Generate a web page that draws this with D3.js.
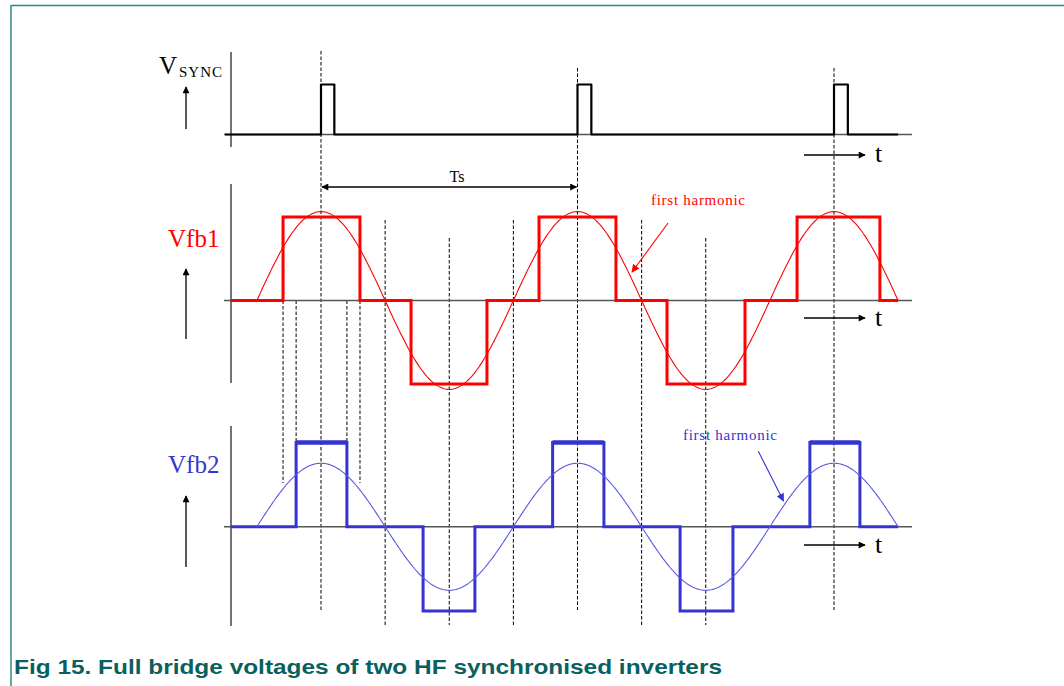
<!DOCTYPE html>
<html>
<head>
<meta charset="utf-8">
<script src="https://cdn.jsdelivr.net/npm/d3@7"></script>
<style>
  html, body { margin: 0; padding: 0; background: #fff; }
  svg { display: block; }
</style>
</head>
<body>
<svg id="chart" width="1064" height="686"></svg>
<script>
// ---------------- DATA (time in units of the switching period Ts) ----------------
const syncTimes = [0, 1, 2];                 // start of each V_SYNC pulse
const syncPulseWidth = [0.052, 0.054, 0.054]; // width of each sync pulse
const vfb1Pulses = [                          // [start, end, level] of the Vfb1 quasi-square wave
  [-0.148, 0.152, 1], [0.351, 0.647, -1], [0.850, 1.150, 1], [1.349, 1.653, -1], [1.856, 2.179, 1]
];
const vfb2Pulses = [                          // [start, end, level] of the Vfb2 quasi-square wave
  [-0.097, 0.101, 1], [0.398, 0.600, -1], [0.903, 1.103, 1], [1.400, 1.606, -1], [1.906, 2.101, 1]
];
const vfb1Harmonic = 1.065;   // first-harmonic amplitude (relative to square level)
const vfb2Harmonic = 0.754;
const harmonicSpan = [-0.25, 2.25];
const waveSpan = [-0.351, 2.25];
const syncGuides = [0, 1, 2];
const zeroCrossGuides = [0.25, 0.75, 1.25];
const troughGuides = [0.5, 1.5];
const vfb1EdgeGuides = [-0.148, 0.152];
const vfb2EdgeGuides = [-0.097, 0.101];
const labels = {
  sync: "V", syncSub: "SYNC", vfb1: "Vfb1", vfb2: "Vfb2", t: "t", ts: "Ts",
  harmonic: "first harmonic",
  caption: "Fig 15. Full bridge voltages of two HF synchronised inverters"
};
// annotation arrows in data space: [t0, v0, t1, v1]
const vfb1HarmArrow = [1.353, 0.928, 1.2125, 0.341];
const vfb2HarmArrow = [1.705, 0.895, 1.803, 0.306];

// ---------------- SCALES ----------------
const x = d3.scaleLinear().domain([0, 1]).range([321, 577.5]);
const ySync = d3.scaleLinear().domain([0, 1]).range([134.5, 84.5]);
const y1 = d3.scaleLinear().domain([-1, 1]).range([384, 217]);
const y2 = d3.scaleLinear().domain([-1, 1]).range([611, 442.5]);

const svg = d3.select("#chart");
const RED = "#ff0000", BLUE = "#3434d2", BLUE_L = "#5858e0", TEAL = "#2f8a86", CAP = "#08605f";

// defs: arrowheads
const defs = svg.append("defs");
function marker(id, color, w, h) {
  defs.append("marker").attr("id", id).attr("viewBox", "0 0 10 10")
    .attr("refX", 9).attr("refY", 5).attr("markerWidth", w).attr("markerHeight", h)
    .attr("orient", "auto-start-reverse").attr("markerUnits", "userSpaceOnUse")
    .append("path").attr("d", "M0,0 L10,5 L0,10 Z").attr("fill", color);
}
marker("ah", "#000", 9, 7);
marker("ahr", RED, 9, 8);
marker("ahb", BLUE, 9, 8);

// frame
svg.append("line").attr("x1", 11).attr("y1", 5.5).attr("x2", 1064).attr("y2", 5.5)
  .attr("stroke", TEAL).attr("stroke-width", 1.5);
svg.append("line").attr("x1", 11).attr("y1", 5).attr("x2", 11).attr("y2", 686)
  .attr("stroke", TEAL).attr("stroke-width", 1.5);

// ---------------- dashed guides ----------------
const gGuides = svg.append("g").attr("stroke", "#000").attr("stroke-width", 1)
  .attr("stroke-dasharray", "3.5,2");
syncGuides.forEach((t, i) => {
  gGuides.append("line").attr("x1", x(t)).attr("x2", x(t))
    .attr("y1", i === 0 ? 51 : 68).attr("y2", 610);
});
zeroCrossGuides.forEach(t => gGuides.append("line").attr("x1", x(t)).attr("x2", x(t)).attr("y1", 220).attr("y2", 625));
troughGuides.forEach(t => gGuides.append("line").attr("x1", x(t)).attr("x2", x(t)).attr("y1", 238).attr("y2", 625));
vfb1EdgeGuides.forEach(t => gGuides.append("line").attr("x1", x(t)).attr("x2", x(t)).attr("y1", y1(0)).attr("y2", 483));
vfb2EdgeGuides.forEach(t => gGuides.append("line").attr("x1", x(t)).attr("x2", x(t)).attr("y1", y1(0)).attr("y2", y2(1)));

// ---------------- axes (vertical lines + baselines) ----------------
const AX = "#444";
function vAxis(y0, y1_) {
  svg.append("line").attr("x1", 231).attr("x2", 231).attr("y1", y0).attr("y2", y1_)
    .attr("stroke", AX).attr("stroke-width", 1.5);
}
vAxis(52, 147); vAxis(184, 383); vAxis(426, 626);
function baseline(y) {
  svg.append("line").attr("x1", 224).attr("x2", 912).attr("y1", y).attr("y2", y)
    .attr("stroke", "#555").attr("stroke-width", 1.5);
}
baseline(ySync(0)); baseline(y1(0)); baseline(y2(0));

// ---------------- sync pulse train ----------------
const line = d3.line();
const syncPts = [[x(-0.374), ySync(0)]];
syncTimes.forEach((t, i) => {
  syncPts.push([x(t), ySync(0)], [x(t), ySync(1)], [x(t + syncPulseWidth[i]), ySync(1)], [x(t + syncPulseWidth[i]), ySync(0)]);
});
syncPts.push([x(2.25), ySync(0)]);
svg.append("path").attr("d", line(syncPts)).attr("fill", "none")
  .attr("stroke", "#000").attr("stroke-width", 2.2).attr("stroke-linejoin", "round");

// ---------------- harmonics ----------------
function harmonic(amp, ys, color) {
  const pts = d3.range(harmonicSpan[0], harmonicSpan[1] + 0.0001, 0.005)
    .map(t => [x(t), ys(amp * Math.cos(2 * Math.PI * t))]);
  svg.append("path").attr("d", d3.line().curve(d3.curveLinear)(pts)).attr("fill", "none")
    .attr("stroke", color).attr("stroke-width", 1.1);
}
// ---------------- square waves ----------------
function square(pulses, ys, color, w) {
  const pts = [[x(waveSpan[0]), ys(0)]];
  pulses.forEach(([a, b, l]) => {
    pts.push([x(a), ys(0)], [x(a), ys(l)], [x(b), ys(l)], [x(b), ys(0)]);
  });
  pts.push([x(waveSpan[1]), ys(0)]);
  svg.append("path").attr("d", line(pts)).attr("fill", "none")
    .attr("stroke", color).attr("stroke-width", w).attr("stroke-linejoin", "miter");
}
square(vfb1Pulses, y1, RED, 3);
harmonic(vfb1Harmonic, y1, RED);
square(vfb2Pulses, y2, BLUE, 3);
// thicker top edges of the positive Vfb2 pulses
vfb2Pulses.filter(p => p[2] > 0).forEach(([a, b]) => {
  svg.append("line").attr("x1", x(a)).attr("x2", x(b)).attr("y1", y2(1)).attr("y2", y2(1))
    .attr("stroke", BLUE).attr("stroke-width", 4.5);
});
harmonic(vfb2Harmonic, y2, BLUE_L);

// ---------------- text & arrows ----------------
const serif = "'Liberation Serif', 'Times New Roman', serif";
function txt(s, xx, yy, size, color, anchor) {
  return svg.append("text").attr("x", xx).attr("y", yy).attr("font-family", serif)
    .attr("font-size", size).attr("fill", color).attr("text-anchor", anchor || "start").text(s);
}
// V_SYNC label
txt(labels.sync, 159, 74, 25, "#000");
txt(labels.syncSub, 179, 77, 15, "#000").attr("letter-spacing", 1);
txt(labels.vfb1, 168, 247, 25, RED);
txt(labels.vfb2, 168, 473, 25, BLUE);

// up arrows
function arrow(x1_, y1_, x2_, y2_, m, color, w) {
  svg.append("line").attr("x1", x1_).attr("y1", y1_).attr("x2", x2_).attr("y2", y2_)
    .attr("stroke", color).attr("stroke-width", w || 1.3).attr("marker-end", `url(#${m})`);
}
arrow(186, 129, 186, 87, "ah", "#000");
arrow(186, 339, 186, 269, "ah", "#000");
arrow(186, 567, 186, 496, "ah", "#000");

// t arrows
[[155, 162], [318, 326], [545, 553]].forEach(([ay, ty]) => {
  arrow(804, ay, 865, ay, "ah", "#000", 1.3);
  txt(labels.t, 875, ty, 26, "#000");
});

// Ts double arrow
svg.append("line").attr("x1", x(0) + 1).attr("x2", x(1) - 1).attr("y1", 187).attr("y2", 187)
  .attr("stroke", "#000").attr("stroke-width", 1.3)
  .attr("marker-start", "url(#ah)").attr("marker-end", "url(#ah)");
txt(labels.ts, 457, 182, 16, "#000", "middle");

// first harmonic labels
txt(labels.harmonic, 651, 205, 15, RED).attr("textLength", 94).attr("lengthAdjust", "spacing");
arrow(x(vfb1HarmArrow[0]), y1(vfb1HarmArrow[1]), x(vfb1HarmArrow[2]), y1(vfb1HarmArrow[3]), "ahr", RED, 1.1);
txt(labels.harmonic, 683, 440, 15, BLUE).attr("textLength", 94).attr("lengthAdjust", "spacing");
arrow(x(vfb2HarmArrow[0]), y2(vfb2HarmArrow[1]), x(vfb2HarmArrow[2]), y2(vfb2HarmArrow[3]), "ahb", BLUE, 1.1);

// caption
svg.append("text").attr("x", 14).attr("y", 674)
  .attr("font-family", "'Liberation Sans Narrow', 'Liberation Sans', Arial, sans-serif").attr("font-weight", "bold")
  .attr("font-size", 21).attr("fill", CAP)
  .attr("textLength", 708).attr("lengthAdjust", "spacingAndGlyphs")
  .text(labels.caption);
</script>
</body>
</html>
